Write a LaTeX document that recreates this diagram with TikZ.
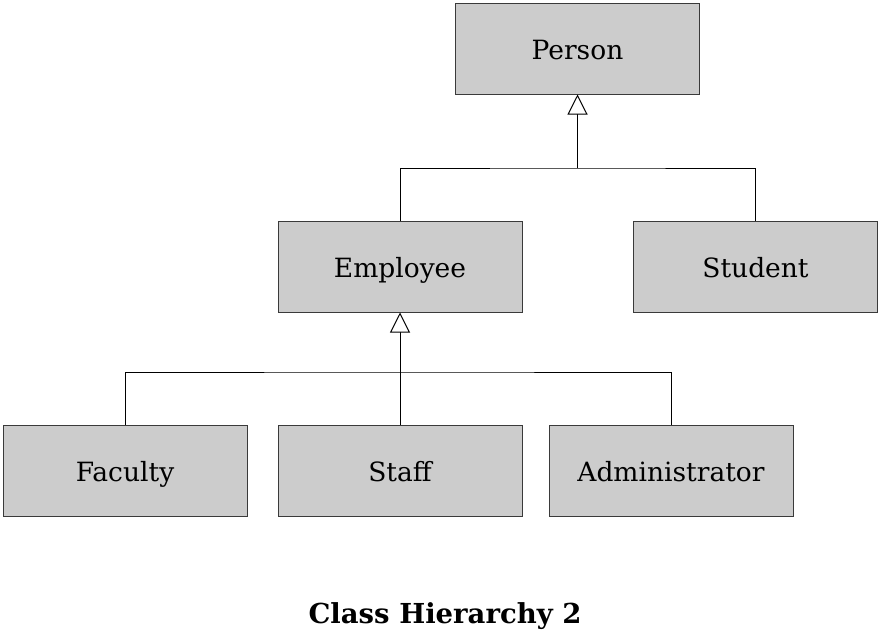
\documentclass[tikz,border=0pt]{standalone}
\usepackage{fontspec}
\setmainfont{DejaVu Serif}
\usetikzlibrary{arrows.meta}
\definecolor{boxfill}{HTML}{CCCCCC}
\definecolor{boxline}{HTML}{3A3A3A}
\tikzset{
  cls/.style={draw=boxline, fill=boxfill, line width=1pt, minimum width=244pt, minimum height=91pt, inner sep=0pt, text height=21pt, text depth=0pt, font=\fontsize{26.5}{30}\selectfont},
  conn/.style={draw=black, line width=1pt},
  inh/.style={conn, -{Triangle[open, length=20pt, width=20pt, fill=white]}}
}
\begin{document}
\begin{tikzpicture}[x=1pt,y=-1pt]
\useasboundingbox (0,0) rectangle (882,635);
\node[cls] (person) at (577.5,48.5) {Person};
\node[cls] (employee) at (400,266.5) {Employee};
\node[cls] (student) at (755.5,266.5) {Student};
\node[cls] (faculty) at (125,470.5) {Faculty};
\node[cls] (staff) at (400,470.5) {Staff};
\node[cls] (admin) at (671,470.5) {Administrator};
\coordinate (j1) at (577.5,168);
\coordinate (j2) at (400,372);
\draw[inh] (j1) -- (person.south);
\draw[conn] (employee.north) |- (j1) -| (student.north);
\draw[inh] (staff.north) -- (employee.south);
\draw[conn] (faculty.north) |- (j2) -| (admin.north);
\node[font=\bfseries\fontsize{27.5}{32}\selectfont] (title) at (445,616) {Class Hierarchy 2};
\end{tikzpicture}
\end{document}
